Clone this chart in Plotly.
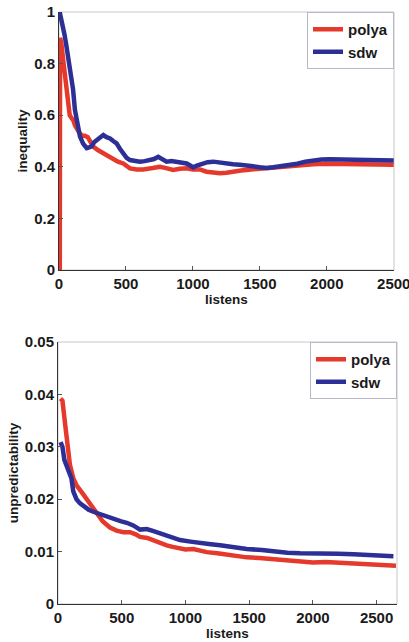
import plotly.graph_objects as go

# ---- top panel: inequality ----
ineq_polya_x = [0, 6, 8, 17, 30, 42, 55, 67, 80, 92, 107, 120, 140, 154, 175, 194, 215, 235, 256, 290, 331, 370, 405, 440, 480, 530, 580, 629, 700, 754, 800, 853, 903, 953, 1000, 1052, 1102, 1150, 1201, 1251, 1300, 1360, 1401, 1480, 1550, 1600, 1672, 1730, 1796, 1860, 1898, 1990, 2045, 2100, 2169, 2230, 2294, 2360, 2430, 2500]
ineq_polya_y = [0.0, 0.0, 0.90, 0.88, 0.82, 0.77, 0.72, 0.65, 0.60, 0.59, 0.58, 0.56, 0.54, 0.53, 0.52, 0.52, 0.515, 0.50, 0.478, 0.465, 0.452, 0.44, 0.426, 0.42, 0.413, 0.394, 0.39, 0.39, 0.395, 0.40, 0.395, 0.388, 0.392, 0.394, 0.39, 0.39, 0.381, 0.378, 0.375, 0.377, 0.383, 0.386, 0.388, 0.392, 0.394, 0.398, 0.40, 0.402, 0.406, 0.408, 0.41, 0.412, 0.412, 0.41, 0.41, 0.408, 0.408, 0.41, 0.408, 0.408]
ineq_sdw_x = [5, 15, 30, 42, 55, 67, 80, 92, 105, 119, 135, 157, 180, 207, 225, 244, 262, 281, 305, 331, 355, 381, 405, 430, 455, 480, 505, 530, 565, 604, 640, 679, 710, 741, 770, 804, 840, 878, 920, 953, 980, 1002, 1030, 1077, 1110, 1152, 1200, 1251, 1300, 1350, 1401, 1450, 1500, 1550, 1600, 1660, 1724, 1780, 1840, 1898, 1960, 2022, 2080, 2150, 2210, 2271, 2350, 2420, 2500]
ineq_sdw_y = [1.0, 0.98, 0.94, 0.91, 0.87, 0.83, 0.79, 0.75, 0.70, 0.62, 0.57, 0.517, 0.49, 0.472, 0.475, 0.48, 0.495, 0.504, 0.51, 0.523, 0.515, 0.51, 0.50, 0.491, 0.47, 0.452, 0.435, 0.426, 0.422, 0.42, 0.422, 0.426, 0.43, 0.439, 0.43, 0.42, 0.422, 0.42, 0.415, 0.413, 0.405, 0.398, 0.405, 0.413, 0.418, 0.42, 0.416, 0.413, 0.41, 0.408, 0.407, 0.402, 0.398, 0.395, 0.398, 0.402, 0.407, 0.412, 0.42, 0.426, 0.428, 0.429, 0.428, 0.426, 0.425, 0.424, 0.425, 0.424, 0.424]

# ---- bottom panel: unpredictability ----
unp_polya_x = [20, 35, 55, 75, 94, 120, 147, 190, 225, 260, 304, 350, 408, 460, 513, 565, 610, 644, 700, 748, 800, 853, 900, 958, 1000, 1062, 1120, 1167, 1250, 1324, 1400, 1481, 1580, 1690, 1800, 1913, 2000, 2100, 2177, 2300, 2441, 2550, 2652]
unp_polya_y = [0.0392, 0.0388, 0.0345, 0.0300, 0.0265, 0.0240, 0.0226, 0.0212, 0.0200, 0.0188, 0.0172, 0.0158, 0.0146, 0.0140, 0.0137, 0.0137, 0.0133, 0.0128, 0.0126, 0.0121, 0.0117, 0.0112, 0.0109, 0.0106, 0.0104, 0.0105, 0.0102, 0.0099, 0.0097, 0.0094, 0.0091, 0.0089, 0.0088, 0.0086, 0.0084, 0.0082, 0.0079, 0.0080, 0.0079, 0.0077, 0.0076, 0.0074, 0.0073]
unp_sdw_x = [20, 35, 50, 68, 90, 105, 120, 145, 173, 210, 240, 277, 330, 382, 430, 490, 539, 590, 644, 696, 750, 801, 880, 958, 1040, 1115, 1200, 1272, 1380, 1481, 1600, 1690, 1800, 1900, 2000, 2109, 2200, 2318, 2430, 2528, 2632]
unp_sdw_y = [0.0309, 0.0300, 0.0275, 0.0262, 0.0252, 0.0240, 0.0215, 0.0200, 0.0192, 0.0184, 0.0180, 0.0176, 0.0171, 0.0167, 0.0162, 0.0158, 0.0155, 0.0150, 0.0142, 0.0143, 0.0139, 0.0135, 0.0128, 0.0122, 0.0119, 0.0116, 0.0114, 0.0112, 0.0108, 0.0105, 0.0103, 0.0100, 0.0098, 0.0097, 0.0096, 0.0097, 0.0096, 0.0095, 0.0094, 0.0093, 0.0091]

x_ticks = [0, 500, 1000, 1500, 2000, 2500]
ineq_ticks = [0, 0.2, 0.4, 0.6, 0.8, 1.0]
ineq_labels = ["0", "0.2", "0.4", "0.6", "0.8", "1"]
unp_ticks = [0, 0.01, 0.02, 0.03, 0.04, 0.05]
unp_labels = ["0", "0.01", "0.02", "0.03", "0.04", "0.05"]

RED = "#e5392c"
BLUE = "#2c2f95"
FONT = "Liberation Sans"
W, H = 409, 642

fig = go.Figure()
fig.add_trace(go.Scatter(x=ineq_polya_x, y=ineq_polya_y, mode="lines", name="polya",
                         line=dict(color=RED, width=4.5), xaxis="x", yaxis="y", legend="legend"))
fig.add_trace(go.Scatter(x=ineq_sdw_x, y=ineq_sdw_y, mode="lines", name="sdw",
                         line=dict(color=BLUE, width=4.5), xaxis="x", yaxis="y", legend="legend"))
fig.add_trace(go.Scatter(x=unp_polya_x, y=unp_polya_y, mode="lines", name="polya",
                         line=dict(color=RED, width=4.5), xaxis="x2", yaxis="y2", legend="legend2"))
fig.add_trace(go.Scatter(x=unp_sdw_x, y=unp_sdw_y, mode="lines", name="sdw",
                         line=dict(color=BLUE, width=4.5), xaxis="x2", yaxis="y2", legend="legend2"))

tickfont = dict(family=FONT, size=15, color="#1a1a1a", weight="bold")
titlefont = dict(family=FONT, size=13.5, color="#1a1a1a", weight="bold")

def xax(dom, anchor, rng):
    return dict(domain=dom, anchor=anchor, range=rng, tickvals=x_ticks, ticktext=[str(v) for v in x_ticks],
                ticks="inside", ticklen=4, tickcolor="#555", showline=True, linecolor="#333", linewidth=1,
                mirror=False, showgrid=False, zeroline=False, tickfont=tickfont, ticklabeloverflow="allow",
                automargin=False, title=dict(text="listens", font=titlefont, standoff=0))

def yax(dom, anchor, rng, tv, tt, title):
    return dict(domain=dom, anchor=anchor, range=rng, tickvals=tv, ticktext=tt,
                ticks="inside", ticklen=4, tickcolor="#555", showline=True, linecolor="#333", linewidth=1,
                mirror=False, showgrid=False, zeroline=False, tickfont=tickfont,
                automargin=False, title=dict(text=title, font=titlefont, standoff=3))

top_dom = [(H - 270) / H, (H - 12) / H]
bot_dom = [(H - 604) / H, (H - 342) / H]

legstyle = dict(bgcolor="white", bordercolor="#b8b8c8", borderwidth=1,
                font=dict(family=FONT, size=15, color="#1a1a1a", weight="bold"),
                xanchor="right", yanchor="top", itemwidth=30, tracegroupgap=0)

frame = dict(type="rect", x0=0, x1=1, y0=0, y1=1, line=dict(color="#c8c8c8", width=1), layer="below")

fig.update_layout(
    width=W, height=H, autosize=False,
    margin=dict(l=0, r=0, t=0, b=0),
    paper_bgcolor="white", plot_bgcolor="white",
    xaxis=xax([59 / W, 394 / W], "y", [0, 2502]),
    yaxis=yax(top_dom, "x", [0, 1], ineq_ticks, ineq_labels, "inequality"),
    xaxis2=xax([58 / W, 397 / W], "y2", [0, 2660]),
    yaxis2=yax(bot_dom, "x2", [0, 0.05], unp_ticks, unp_labels, "unpredictability"),
    legend=dict(x=394 / W, y=top_dom[1], **legstyle),
    legend2=dict(x=397 / W, y=bot_dom[1], **legstyle),
    shapes=[
        dict(frame, xref="x domain", yref="y domain"),
        dict(frame, xref="x2 domain", yref="y2 domain"),
    ],
)

fig.write_html("out.html")
